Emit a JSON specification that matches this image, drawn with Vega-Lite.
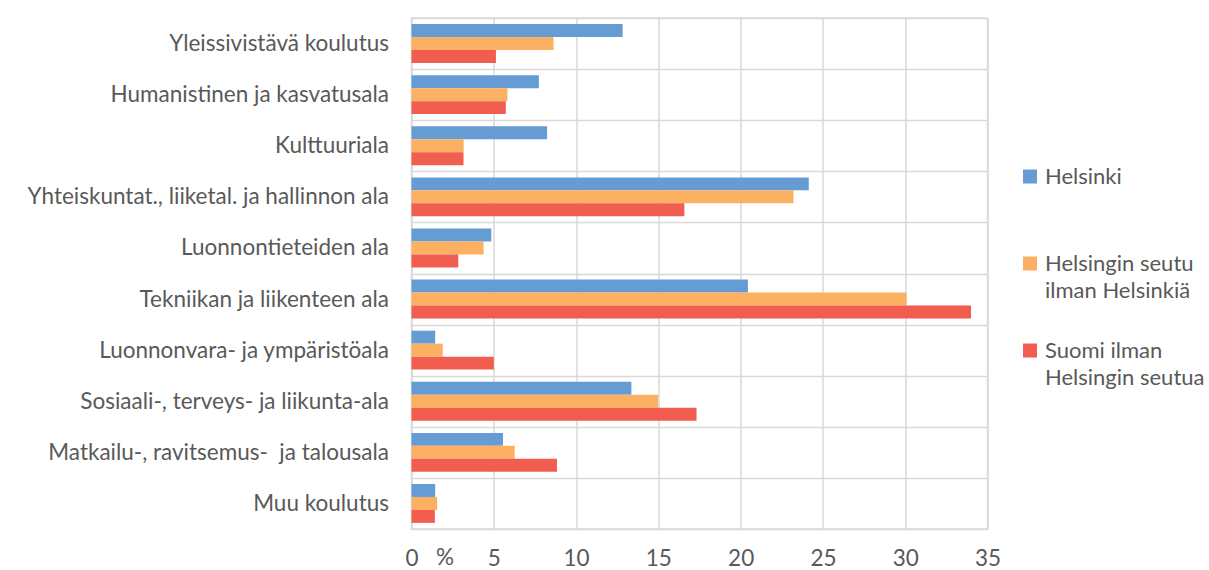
{
  "$schema": "https://vega.github.io/schema/vega-lite/v6.json",
  "width": 576,
  "height": 511,
  "autosize": {"type": "none"},
  "padding": {"left": 411.5, "top": 18, "right": 221.5, "bottom": 41},
  "background": "white",
  "config": {
    "font": "Lato",
    "view": {"stroke": "#d9d9d9", "strokeWidth": 1.5}
  },
  "data": {
    "values": [
      {"ala": "Yleissivistävä koulutus", "alue": "Helsinki", "osuus": 12.83},
      {"ala": "Yleissivistävä koulutus", "alue": "Helsingin seutu ilman Helsinkiä", "osuus": 8.63},
      {"ala": "Yleissivistävä koulutus", "alue": "Suomi ilman Helsingin seutua", "osuus": 5.13},
      {"ala": "Humanistinen ja kasvatusala", "alue": "Helsinki", "osuus": 7.74},
      {"ala": "Humanistinen ja kasvatusala", "alue": "Helsingin seutu ilman Helsinkiä", "osuus": 5.83},
      {"ala": "Humanistinen ja kasvatusala", "alue": "Suomi ilman Helsingin seutua", "osuus": 5.73},
      {"ala": "Kulttuuriala", "alue": "Helsinki", "osuus": 8.24},
      {"ala": "Kulttuuriala", "alue": "Helsingin seutu ilman Helsinkiä", "osuus": 3.17},
      {"ala": "Kulttuuriala", "alue": "Suomi ilman Helsingin seutua", "osuus": 3.16},
      {"ala": "Yhteiskuntat., liiketal. ja hallinnon ala", "alue": "Helsinki", "osuus": 24.14},
      {"ala": "Yhteiskuntat., liiketal. ja hallinnon ala", "alue": "Helsingin seutu ilman Helsinkiä", "osuus": 23.21},
      {"ala": "Yhteiskuntat., liiketal. ja hallinnon ala", "alue": "Suomi ilman Helsingin seutua", "osuus": 16.58},
      {"ala": "Luonnontieteiden ala", "alue": "Helsinki", "osuus": 4.85},
      {"ala": "Luonnontieteiden ala", "alue": "Helsingin seutu ilman Helsinkiä", "osuus": 4.38},
      {"ala": "Luonnontieteiden ala", "alue": "Suomi ilman Helsingin seutua", "osuus": 2.84},
      {"ala": "Tekniikan ja liikenteen ala", "alue": "Helsinki", "osuus": 20.44},
      {"ala": "Tekniikan ja liikenteen ala", "alue": "Helsingin seutu ilman Helsinkiä", "osuus": 30.08},
      {"ala": "Tekniikan ja liikenteen ala", "alue": "Suomi ilman Helsingin seutua", "osuus": 34.0},
      {"ala": "Luonnonvara- ja ympäristöala", "alue": "Helsinki", "osuus": 1.44},
      {"ala": "Luonnonvara- ja ympäristöala", "alue": "Helsingin seutu ilman Helsinkiä", "osuus": 1.9},
      {"ala": "Luonnonvara- ja ympäristöala", "alue": "Suomi ilman Helsingin seutua", "osuus": 5.0},
      {"ala": "Sosiaali-, terveys- ja liikunta-ala", "alue": "Helsinki", "osuus": 13.36},
      {"ala": "Sosiaali-, terveys- ja liikunta-ala", "alue": "Helsingin seutu ilman Helsinkiä", "osuus": 14.99},
      {"ala": "Sosiaali-, terveys- ja liikunta-ala", "alue": "Suomi ilman Helsingin seutua", "osuus": 17.32},
      {"ala": "Matkailu-, ravitsemus-  ja talousala", "alue": "Helsinki", "osuus": 5.56},
      {"ala": "Matkailu-, ravitsemus-  ja talousala", "alue": "Helsingin seutu ilman Helsinkiä", "osuus": 6.27},
      {"ala": "Matkailu-, ravitsemus-  ja talousala", "alue": "Suomi ilman Helsingin seutua", "osuus": 8.84},
      {"ala": "Muu koulutus", "alue": "Helsinki", "osuus": 1.44},
      {"ala": "Muu koulutus", "alue": "Helsingin seutu ilman Helsinkiä", "osuus": 1.56},
      {"ala": "Muu koulutus", "alue": "Suomi ilman Helsingin seutua", "osuus": 1.42}
    ]
  },
  "mark": {"type": "bar"},
  "encoding": {
    "y": {
      "field": "ala",
      "type": "nominal",
      "sort": null,
      "scale": {"paddingInner": 0, "paddingOuter": 0},
      "axis": {
        "title": null,
        "ticks": false,
        "domain": false,
        "labelPadding": 23,
        "labelFontSize": 22.5,
        "labelColor": "#595959",
        "labelLimit": 420,
        "labelExpr": "replace(datum.label, '-  ja', '-\u00a0 ja')",
        "tickBand": "extent",
        "grid": true,
        "gridColor": "#d9d9d9",
        "gridWidth": 1.5
      }
    },
    "yOffset": {
      "field": "alue",
      "type": "nominal",
      "sort": null,
      "scale": {"paddingInner": 0, "paddingOuter": 0.47}
    },
    "x": {
      "field": "osuus",
      "type": "quantitative",
      "scale": {"domain": [0, 35], "nice": false},
      "axis": {
        "values": [0, 5, 10, 15, 20, 25, 30, 35],
        "title": "%",
        "titleX": 33,
        "titleY": 28,
        "titleAlign": "center",
        "titleBaseline": "middle",
        "titleFontSize": 22.5,
        "titleFontWeight": "normal",
        "titleColor": "#595959",
        "ticks": false,
        "domain": false,
        "labelFlush": false,
        "labelPadding": 18,
        "labelFontSize": 22.5,
        "labelColor": "#595959",
        "grid": true,
        "gridColor": "#d9d9d9",
        "gridWidth": 1.5
      }
    },
    "color": {
      "field": "alue",
      "type": "nominal",
      "sort": null,
      "scale": {
        "domain": ["Helsinki", "Helsingin seutu ilman Helsinkiä", "Suomi ilman Helsingin seutua"],
        "range": ["#659CD4", "#FCB062", "#F15D4F"]
      },
      "legend": {
        "title": null,
        "orient": "none",
        "legendX": 607.5,
        "legendY": 138,
        "gridAlign": "all",
        "rowPadding": 28,
        "symbolType": "M-1,0.36H1V2.36H-1Z",
        "symbolSize": 196,
        "symbolStrokeWidth": 0,
        "symbolOpacity": 1,
        "labelOffset": 4,
        "labelBaseline": "top",
        "labelFontSize": 22,
        "labelColor": "#595959",
        "labelLimit": 200,
        "labelExpr": "datum.label == 'Helsingin seutu ilman Helsinkiä' ? ['Helsingin seutu', 'ilman Helsinkiä'] : datum.label == 'Suomi ilman Helsingin seutua' ? ['Suomi ilman', 'Helsingin seutua'] : datum.label",
        "encode": {"labels": {"update": {"lineHeight": {"value": 27}}}}
      }
    }
  }
}
